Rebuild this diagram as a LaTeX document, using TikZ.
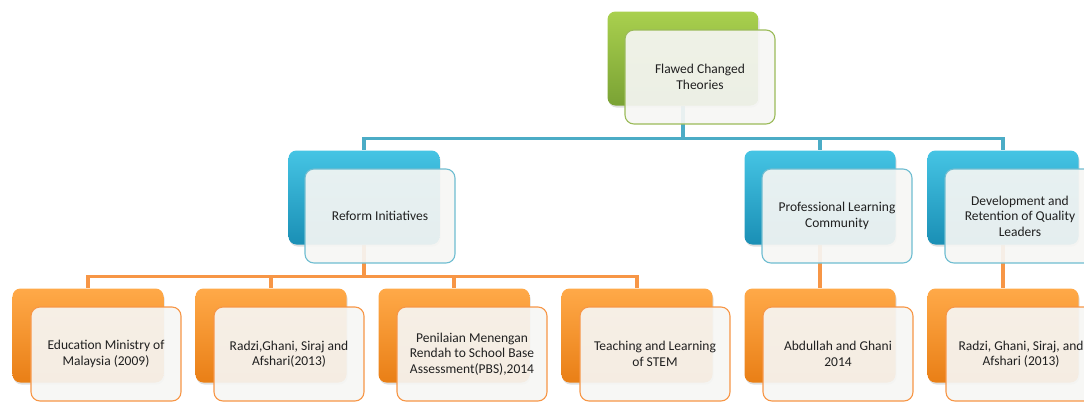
\documentclass[tikz,border=0pt]{standalone}
\usepackage{fontspec}
\setmainfont{Carlito}
\usetikzlibrary{shadows,backgrounds}
\definecolor{gtop}{HTML}{A9D04E}
\definecolor{gbot}{HTML}{7AA234}
\definecolor{gline}{HTML}{9BBB59}
\definecolor{btop}{HTML}{45C4E4}
\definecolor{bbot}{HTML}{1A8FB5}
\definecolor{bline}{HTML}{4BACC6}
\definecolor{otop}{HTML}{FFA948}
\definecolor{obot}{HTML}{E97F16}
\definecolor{oline}{HTML}{F79646}
\definecolor{frontfill}{HTML}{F6F6F4}
\definecolor{txt}{HTML}{202020}
\begin{document}
\begin{tikzpicture}[x=1bp,y=-1bp,
  back/.style={minimum width=151bp, minimum height=94bp, rounded corners=8bp,
    inner sep=0pt, drop shadow={opacity=0.25, shadow xshift=1bp, shadow yshift=-2bp}},
  gback/.style={back, top color=gtop, bottom color=gbot},
  bback/.style={back, top color=btop, bottom color=bbot},
  oback/.style={back, top color=otop, bottom color=obot},
  front/.style={minimum width=150bp, minimum height=94bp, rounded corners=9bp,
    fill=frontfill, fill opacity=0.92, text opacity=1, line width=1.1bp,
    align=center, text=txt, inner sep=2bp,
    font=\fontsize{13.5bp}{15.5bp}\selectfont},
  gfront/.style={front, draw=gline},
  bfront/.style={front, draw=bline!80},
  ofront/.style={front, draw=oline},
  bconn/.style={draw=bline, line width=3.2bp},
  oconn/.style={draw=oline, line width=3.2bp}]
\useasboundingbox (0,0) rectangle (1084,401);
\clip (0,0) rectangle (1084,401);
% level 1
\node[gback] (g0) at (683,58.5) {};
\node[gfront] (f0) at (700,77) {Flawed Changed\\Theories};
% level 2
\node[bback] (b1) at (364,197.5) {};
\node[bfront] (fb1) at (380,216) {Reform Initiatives};
\node[bback] (b2) at (820,197.5) {};
\node[bfront] (fb2) at (837,216) {Professional Learning\\Community};
\node[bback] (b3) at (1003,197.5) {};
\node[bfront] (fb3) at (1020,216) {Development and\\Retention of Quality\\Leaders};
% level 3
\node[oback] (o1) at (88,335.5) {};
\node[ofront] (fo1) at (106,354) {Education Ministry of\\Malaysia (2009)};
\node[oback] (o2) at (271,335.5) {};
\node[ofront] (fo2) at (289,354) {Radzi,Ghani, Siraj and\\Afshari(2013)};
\node[oback] (o3) at (454,335.5) {};
\node[ofront] (fo3) at (472,354) {Penilaian Menengan\\Rendah to School Base\\Assessment(PBS),2014};
\node[oback] (o4) at (637,335.5) {};
\node[ofront] (fo4) at (655,354) {Teaching and Learning\\of STEM};
\node[oback] (o5) at (820,335.5) {};
\node[ofront] (fo5) at (838,354) {Abdullah and Ghani\\2014};
\node[oback] (o6) at (1003,335.5) {};
\node[ofront] (fo6) at (1021,354) {Radzi, Ghani, Siraj, and\\Afshari (2013)};
% connectors
\coordinate (j1) at (683,138.5);
\coordinate (j2) at (364,276.5);
\begin{scope}[on background layer]
\draw[bconn] (g0.south) -- (j1);
\draw[bconn] (j1) -| (b1.north);
\draw[bconn] (j1) -| (b2.north);
\draw[bconn] (j1) -| (b3.north);
\draw[oconn] (b1.south) -- (j2);
\draw[oconn] (j2) -| (o1.north);
\draw[oconn] (j2) -| (o2.north);
\draw[oconn] (j2) -| (o3.north);
\draw[oconn] (j2) -| (o4.north);
\draw[oconn] (b2.south) -- (o5.north);
\draw[oconn] (b3.south) -- (o6.north);
\end{scope}
\end{tikzpicture}
\end{document}
